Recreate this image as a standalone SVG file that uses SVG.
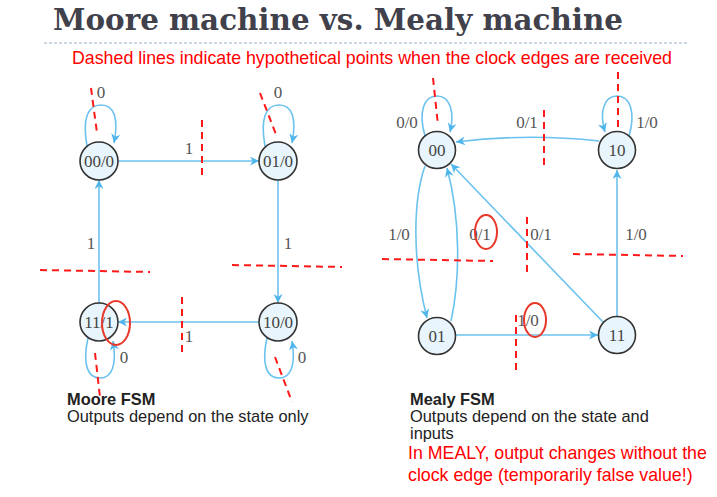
<svg xmlns="http://www.w3.org/2000/svg" width="717" height="497" viewBox="0 0 717 497">
<style>
.node circle{fill:#e8f5fc;stroke:#333;stroke-width:1.6}
.nl{font-family:"Liberation Serif",serif;font-size:17px;fill:#444;text-anchor:middle}
.el{font-family:"Liberation Serif",serif;font-size:17px;fill:#555;text-anchor:middle}
.edge{fill:none;stroke:#6cc2ee;stroke-width:1.6}
.red{fill:none;stroke:#ff1a1a;stroke-width:2;stroke-dasharray:7,5}
.ring{fill:none;stroke:#e8382a;stroke-width:2}
.cap{font-family:"Liberation Sans",Arial,sans-serif;font-size:16.4px;fill:#222}
.rt{font-family:"Liberation Sans",Arial,sans-serif;font-size:17.8px;fill:#ff0000}
</style>
<defs>
<marker id="ah" viewBox="0 0 10 10" refX="10" refY="5" markerWidth="10" markerHeight="9" markerUnits="userSpaceOnUse" orient="auto">
<path d="M0,0 L10,5 L0,10 L3,5 Z" fill="#4fb5ea"/>
</marker>
</defs>
<rect width="717" height="497" fill="#fff"/>
<text x="53" y="30" font-family="DejaVu Serif,serif" font-weight="bold" font-size="29" fill="#41414c" textLength="570" lengthAdjust="spacingAndGlyphs">Moore machine vs. Mealy machine</text>
<line x1="44" y1="43" x2="687" y2="43" stroke="#9ab4cc" stroke-width="1" stroke-dasharray="3,2"/>
<text class="rt" x="72" y="64" textLength="600" lengthAdjust="spacingAndGlyphs">Dashed lines indicate hypothetical points when the clock edges are received</text>

<g id="connectors">
<path class="edge" d="M87,146 C82,118 88,105 101,105 C114,105 119,118 114,143" marker-end="url(#ah)"/>
<path class="edge" d="M265,146 C260,118 266,105 279,105 C292,105 297,118 292,143" marker-end="url(#ah)"/>
<path class="edge" d="M88,338 C82,365 88,378 100,378 C112,378 117,365 113,341" marker-end="url(#ah)"/>
<path class="edge" d="M267,338 C261,365 267,378 279,378 C291,378 296,365 292,341" marker-end="url(#ah)"/>
<path class="edge" d="M118,161 L259,161" marker-end="url(#ah)"/>
<path class="edge" d="M278,180 L278,303" marker-end="url(#ah)"/>
<path class="edge" d="M259,322 L118,322" marker-end="url(#ah)"/>
<path class="edge" d="M99,303 L99,180" marker-end="url(#ah)"/>
<path class="edge" d="M425,136 C418,112 424,96 437,96 C450,96 455,112 450,132" marker-end="url(#ah)"/>
<path class="edge" d="M629,136 C636,112 630,96 617,96 C604,96 599,112 605,132" marker-end="url(#ah)"/>
<path class="edge" d="M599,141 Q527,133 456,142" marker-end="url(#ah)"/>
<path class="edge" d="M425,166 C413,200 412,260 427,318" marker-end="url(#ah)"/>
<path class="edge" d="M451,321 C460,280 461,220 447,168" marker-end="url(#ah)"/>
<path class="edge" d="M603,322 L451,164" marker-end="url(#ah)"/>
<path class="edge" d="M617,316 L617,170" marker-end="url(#ah)"/>
<path class="edge" d="M455,335 L598,335" marker-end="url(#ah)"/>
</g>

<g id="edge-labels">
<text class="el" x="101" y="98">0</text>
<text class="el" x="278" y="98">0</text>
<text class="el" x="189" y="154">1</text>
<text class="el" x="288" y="249">1</text>
<text class="el" x="91" y="249">1</text>
<text class="el" x="189" y="342">1</text>
<text class="el" x="124" y="363">0</text>
<text class="el" x="302" y="363">0</text>
<text class="el" x="407" y="128">0/0</text>
<text class="el" x="647" y="128">1/0</text>
<text class="el" x="527" y="128">0/1</text>
<text class="el" x="399" y="240">1/0</text>
<text class="el" x="480" y="240">0/1</text>
<text class="el" x="541" y="240">0/1</text>
<text class="el" x="636" y="240">1/0</text>
<text class="el" x="528" y="326">1/0</text>
</g>

<g id="n-moore-00" class="node"><circle cx="99" cy="161" r="19"/><text class="nl" x="99" y="167">00/0</text></g>
<g id="n-moore-01" class="node"><circle cx="278" cy="161" r="19"/><text class="nl" x="278" y="167">01/0</text></g>
<g id="n-moore-11" class="node"><circle cx="99" cy="322" r="19"/><text class="nl" x="99" y="328">11/1</text></g>
<g id="n-moore-10" class="node"><circle cx="278" cy="322" r="19"/><text class="nl" x="278" y="328">10/0</text></g>
<g id="n-mealy-00" class="node"><circle cx="437" cy="150" r="18.5"/><text class="nl" x="437" y="156">00</text></g>
<g id="n-mealy-10" class="node"><circle cx="617" cy="150" r="18.5"/><text class="nl" x="617" y="156">10</text></g>
<g id="n-mealy-01" class="node"><circle cx="437" cy="336" r="18.5"/><text class="nl" x="437" y="342">01</text></g>
<g id="n-mealy-11" class="node"><circle cx="617" cy="335" r="18.5"/><text class="nl" x="617" y="341">11</text></g>

<g id="annotations">
<line class="red" x1="91" y1="88" x2="97" y2="133"/>
<line class="red" x1="260" y1="93" x2="277" y2="137"/>
<line class="red" x1="202" y1="120" x2="202" y2="178"/>
<line class="red" x1="232" y1="265" x2="342" y2="267"/>
<line class="red" x1="40" y1="270" x2="150" y2="272"/>
<line class="red" x1="182" y1="297" x2="182" y2="355"/>
<line class="red" x1="95" y1="353" x2="100" y2="397"/>
<line class="red" x1="275" y1="357" x2="292" y2="402"/>
<ellipse class="ring" cx="116" cy="323" rx="14" ry="22"/>
<line class="red" x1="433" y1="78" x2="438" y2="125"/>
<line class="red" x1="618" y1="72" x2="618" y2="128"/>
<line class="red" x1="544" y1="110" x2="544" y2="168"/>
<line class="red" x1="382" y1="259" x2="493" y2="261"/>
<line class="red" x1="527" y1="217" x2="527" y2="275"/>
<line class="red" x1="573" y1="254" x2="683" y2="256"/>
<line class="red" x1="516" y1="315" x2="516" y2="370"/>
<ellipse class="ring" cx="486" cy="232" rx="11" ry="17"/>
<ellipse class="ring" cx="535" cy="320" rx="11" ry="17"/>
</g>

<g id="captions">
<text class="cap" x="67" y="405" font-weight="bold">Moore FSM</text>
<text class="cap" x="67" y="422">Outputs depend on the state only</text>
<text class="cap" x="410" y="405" font-weight="bold">Mealy FSM</text>
<text class="cap" x="410" y="422">Outputs depend on the state and</text>
<text class="cap" x="410" y="439">inputs</text>
<text class="rt" x="408" y="459">In MEALY, output changes without the</text>
<text class="rt" x="408" y="481">clock edge (temporarily false value!)</text>
</g>
</svg>
